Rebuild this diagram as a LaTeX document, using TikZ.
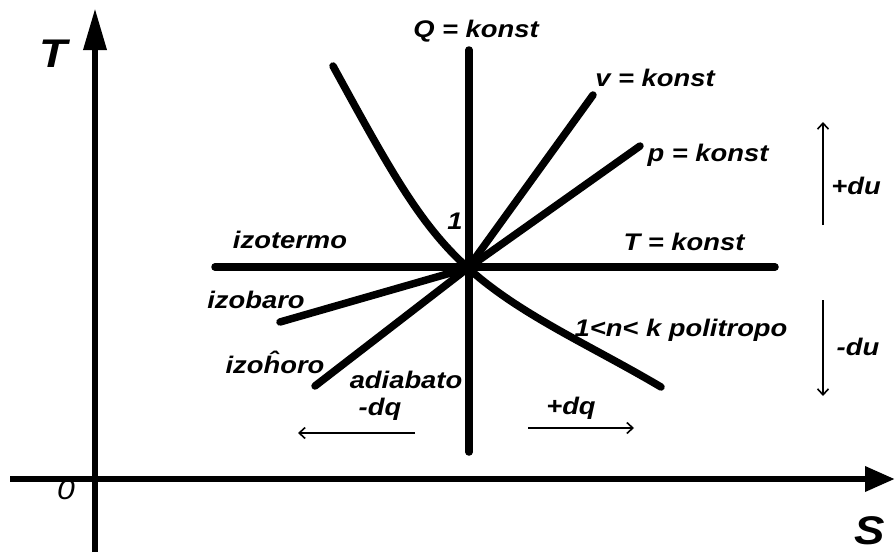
\documentclass[tikz,border=0pt]{standalone}
\usepackage{fontspec}
\setmainfont{Liberation Sans}
\newfontfamily\lblfont[FakeStretch=1.14]{Liberation Sans}
\usetikzlibrary{arrows.meta}
\begin{document}
\begin{tikzpicture}[x=1pt,y=-1pt,
  thickline/.style={line width=7.5pt,line cap=round},
  axisline/.style={line width=6.5pt},
  thinarrow/.style={line width=1.6pt,-{Straight Barb[length=6pt,width=11pt,line width=1.6pt]}},
  lbl/.style={font=\lblfont\fontsize{24}{24}\selectfont\bfseries\itshape,inner sep=0pt},
  biglbl/.style={font=\lblfont\fontsize{40}{40}\selectfont\bfseries\itshape,inner sep=0pt}]
\useasboundingbox (0,0) rectangle (895,557);
% axes
\coordinate (Tb) at (95,552);
\coordinate (Tt) at (95,8);
\coordinate (Sl) at (10,479);
\coordinate (Sr) at (895,479);
\draw[axisline,-{Triangle[length=42pt,width=22pt]}] (Tb) -- (Tt);
\draw[axisline,-{Triangle[length=30pt,width=24pt]}] (Sl) -- (Sr);
\node[biglbl] (Tlab) at (53,54) {T};
\node[biglbl] (Slab) at (870,531) {S};
\node[lbl,font=\lblfont\fontsize{28}{28}\selectfont\itshape] (O) at (66,490) {0};
% centre and ends
\coordinate (C) at (468,268);
\coordinate (Qt) at (469,50);
\coordinate (Qb) at (469,452);
\coordinate (Il) at (215,267);
\coordinate (Ir) at (775,267);
\coordinate (Ve) at (593,95);
\coordinate (Pe) at (640,146);
\coordinate (Be) at (280,322);
\coordinate (He) at (315,386);
\coordinate (Nt) at (333,66);
\coordinate (Ne) at (661,387);
\draw[thickline] (Qt) -- (Qb);
\draw[thickline] (Il) -- (Ir);
\draw[thickline] (C) -- (Ve);
\draw[thickline] (C) -- (Pe);
\draw[thickline] (C) -- (Be);
\draw[thickline] (C) -- (He);
\draw[thickline] (Nt) .. controls (390,170) and (420,225) .. (C)
  .. controls (520,315) and (590,345) .. (Ne);
% labels
\node[lbl] (Q) at (476,31) {Q = konst};
\node[lbl] (V) at (655,78) {v = konst};
\node[lbl] (P) at (708,155) {p = konst};
\node[lbl] (Tk) at (684,242) {T = konst};
\node[lbl] (iz) at (290,240) {izotermo};
\node[lbl] (ib) at (256,300) {izobaro};
\node[lbl] (ih) at (275,362) {izoĥoro};
\node[lbl] (ad) at (406,380) {adiabato};
\node[lbl] (mdq) at (380,409) {-dq};
\node[lbl] (pdq) at (571,408) {+dq};
\node[lbl] (pol) at (681,330) {1<n< k politropo};
\node[lbl] (one) at (455,221) {1};
\node[lbl] (pdu) at (856,186) {+du};
\node[lbl] (mdu) at (858,347) {-du};
% thin arrows
\coordinate (La) at (415,433);
\coordinate (Lb) at (298,433);
\coordinate (Ra) at (528,428);
\coordinate (Rb) at (634,428);
\coordinate (Ua) at (823,225);
\coordinate (Ub) at (823,122);
\coordinate (Da) at (823,300);
\coordinate (Db) at (823,396);
\draw[thinarrow] (La) -- (Lb);
\draw[thinarrow] (Ra) -- (Rb);
\draw[thinarrow] (Ua) -- (Ub);
\draw[thinarrow] (Da) -- (Db);
\end{tikzpicture}
\end{document}
